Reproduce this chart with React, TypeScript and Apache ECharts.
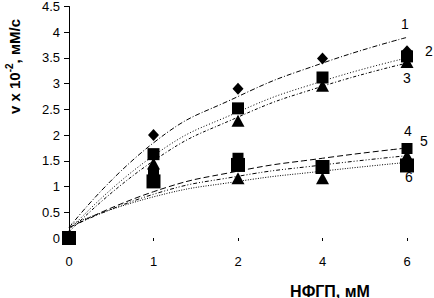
import React, { useEffect, useRef } from "react";
import * as echarts from "echarts";

const categories = ["0", "1", "2", "4", "6"];
const yTicks = { min: 0, max: 4.5, interval: 0.5 };

// measured points
const s1 = [0, 2.0, 2.9, 3.49, 3.63];
const s2 = [0, 1.63, 2.52, 3.12, 3.53];
const s3 = [0, 1.45, 2.28, 2.96, 3.42];
const s4 = [0, 1.25, 1.55, 1.4, 1.74];
const s5 = [0, 1.1, 1.42, 1.38, 1.41];
const s6 = [0, 1.15, 1.16, 1.16, 1.6];

// trend lines (read at each category)
const t1 = [0.2, 1.85, 2.75, 3.4, 3.9];
const t2 = [0.15, 1.6, 2.45, 3.05, 3.5];
const t3 = [0.12, 1.5, 2.35, 2.95, 3.4];
const t4 = [0.2, 0.9, 1.3, 1.55, 1.75];
const t5 = [0.2, 0.85, 1.2, 1.42, 1.6];
const t6 = [0.25, 0.8, 1.1, 1.3, 1.47];

const curveLabels = ["1", "2", "3", "4", "5", "6"];

export default function App() {
  const ref = useRef<HTMLDivElement>(null);
  useEffect(() => {
    if (!ref.current) return;
    const chart = echarts.init(ref.current, null, { renderer: "svg" });
    const font = "'Liberation Sans', Arial, sans-serif";
    const trend = (data: number[], dash: number[]) => ({
      type: "line",
      data,
      smooth: 0.5,
      symbol: "none",
      lineStyle: { color: "#000", width: 1, type: dash },
      z: 1,
    });
    const pts = (data: number[], symbol: string, size: any) => ({
      type: "scatter",
      data,
      symbol,
      symbolSize: size,
      itemStyle: { color: "#000", opacity: 1 },
      z: 3,
    });
    const labelPos = [
      [405, 24],
      [429, 51],
      [407, 78],
      [408, 131],
      [424, 141],
      [409, 177],
    ];
    chart.setOption({
      animation: false,
      backgroundColor: "#fff",
      textStyle: { fontFamily: font },
      grid: { left: 69, right: 27, top: 5, bottom: 60 },
      xAxis: {
        type: "category",
        data: categories,
        boundaryGap: false,
        offset: 6,
        axisLine: { show: false },
        axisTick: { show: true, length: 3, lineStyle: { color: "#000" } },
        axisLabel: { color: "#000", fontSize: 13, margin: 11, fontFamily: font },
        splitLine: { show: false },
      },
      yAxis: {
        type: "value",
        min: yTicks.min,
        max: yTicks.max,
        interval: yTicks.interval,
        axisLine: { show: true, lineStyle: { color: "#000", width: 1 } },
        axisTick: { show: true, length: 5, lineStyle: { color: "#000" } },
        axisLabel: { color: "#000", fontSize: 13, margin: 9, fontFamily: font },
        splitLine: { show: false },
      },
      series: [
        trend(t1, [5, 2, 1, 2]),
        trend(t2, [1, 2]),
        trend(t3, [3, 2, 1, 2]),
        trend(t4, [6, 3]),
        trend(t5, [4, 2, 1, 2, 1, 2]),
        trend(t6, [1, 1.5]),
        pts(s6, "triangle", [13, 12]),
        pts(s5, "rect", 14),
        pts(s4, "rect", 11),
        pts(s3, "triangle", [13, 12]),
        pts(s2, "rect", 12),
        pts(s1, "diamond", [11, 12]),
      ],
      graphic: [
        ...curveLabels.map((t, i) => ({
          type: "text",
          x: labelPos[i][0],
          y: labelPos[i][1],
          style: {
            text: t,
            fontSize: 14,
            fontFamily: font,
            fill: "#000",
            textAlign: "center",
            textVerticalAlign: "middle",
          },
        })),
        {
          type: "text",
          x: 330,
          y: 291,
          style: {
            text: "НФГП, мМ",
            fontSize: 16,
            fontWeight: "bold",
            fontFamily: font,
            fill: "#000",
            textAlign: "center",
            textVerticalAlign: "middle",
          },
        },
        {
          type: "text",
          x: 14,
          y: 114,
          rotation: Math.PI / 2,
          style: {
            text: "{a|v x 10}{s|-2}{a|, мМ/с}",
            textAlign: "left",
            textVerticalAlign: "middle",
            rich: {
              a: { fontSize: 15, fontWeight: "bold", fontFamily: font, fill: "#000", color: "#000" },
              s: { fontSize: 10, fontWeight: "bold", fontFamily: font, fill: "#000", color: "#000", verticalAlign: "top", padding: [0, 0, 9, 0] },
            },
          },
        },
      ],
    });
    return () => chart.dispose();
  }, []);
  return (
    <div
      ref={ref}
      style={{ position: "fixed", left: 0, top: 0, width: 434, height: 298, background: "#fff" }}
    />
  );
}
